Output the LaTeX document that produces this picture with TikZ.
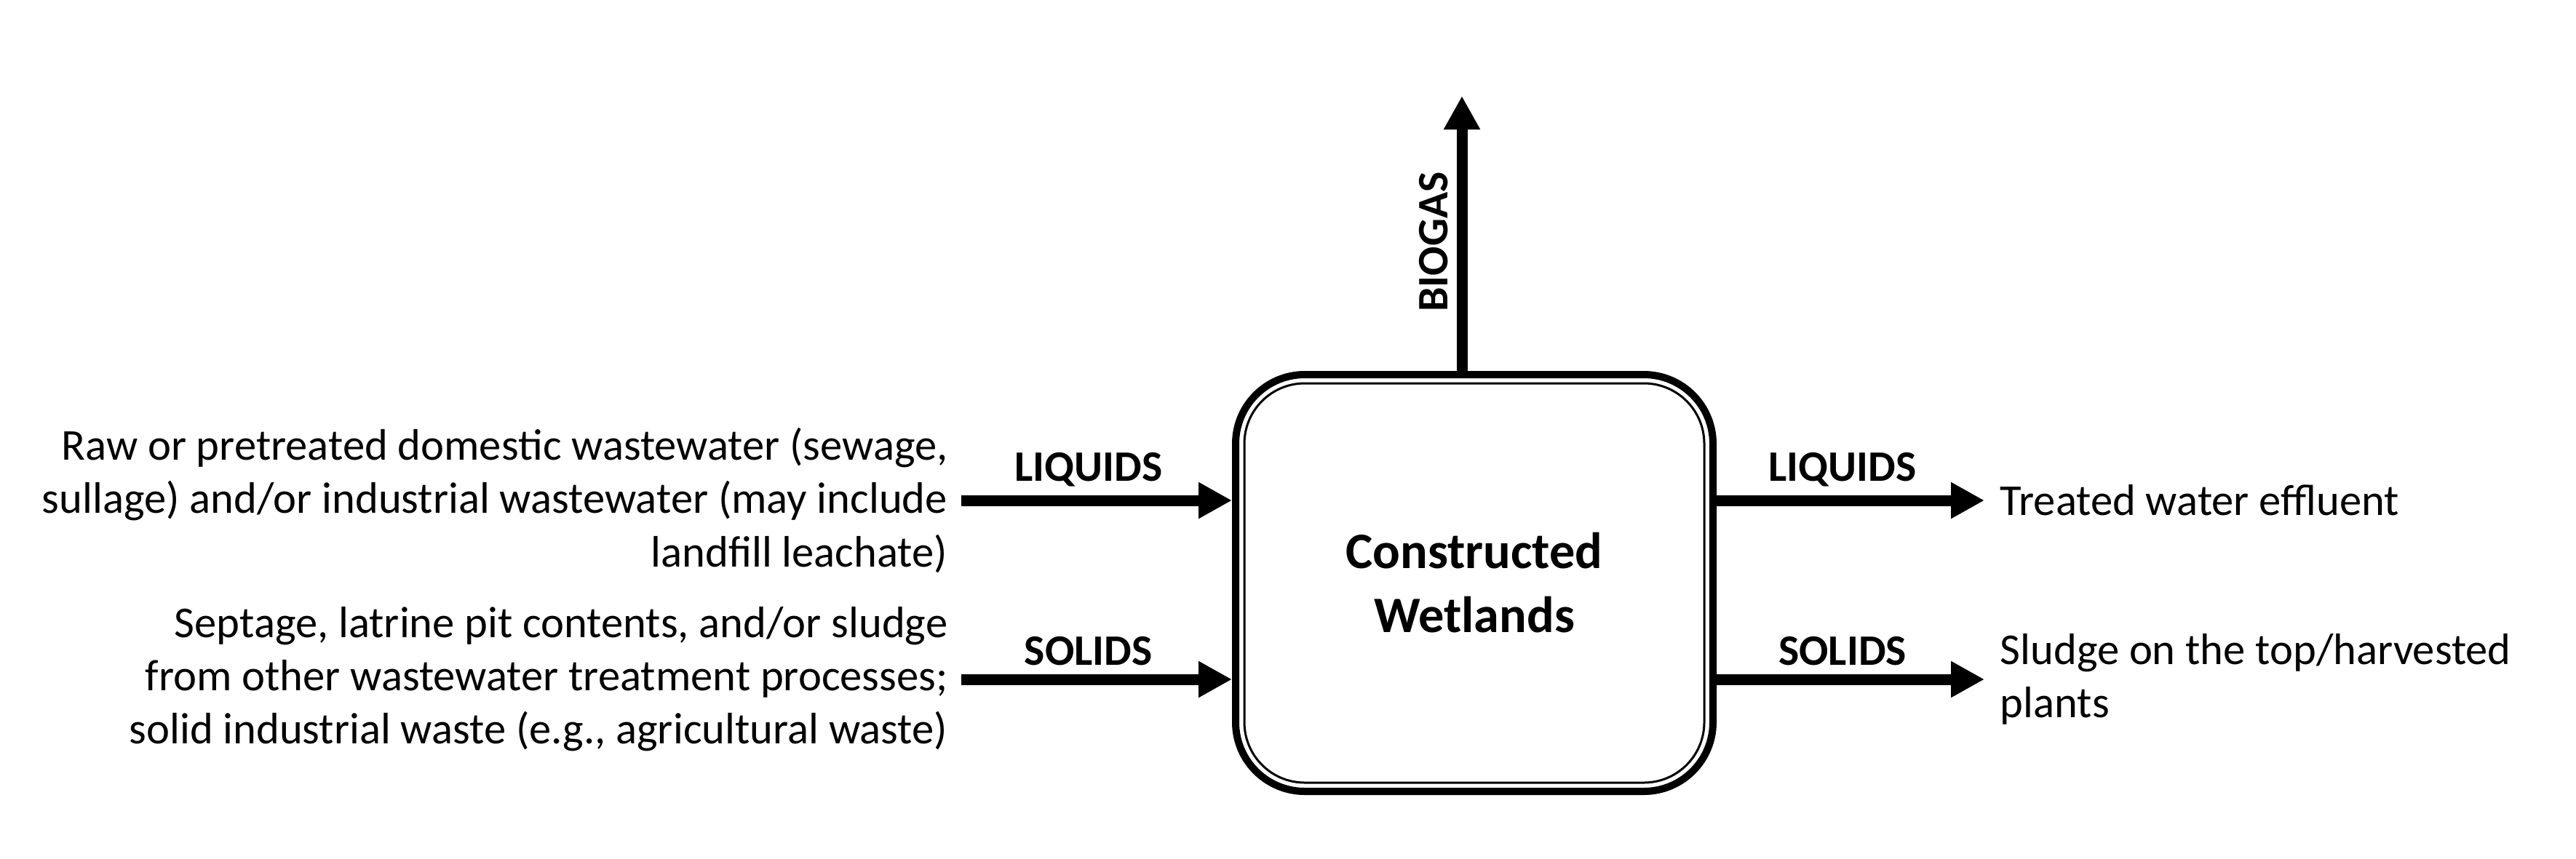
\documentclass[tikz,border=0pt]{standalone}
\usepackage{fontspec}
\setmainfont{Carlito}
\usetikzlibrary{arrows.meta}

\begin{document}
\begin{tikzpicture}
		\tikzset{
			flow/.style={line width=0.15cm, -{Triangle[length=0.46cm, width=0.47cm]}},
			lbl/.style={font=\fontsize{17}{20}\selectfont\bfseries},
			txt/.style={font=\fontsize{17.25}{20.8}\selectfont, inner sep=0pt},
			tank/.style={draw, line width=0.1cm, rounded corners=0.95cm, minimum width=6.56cm, minimum height=5.73cm, align=center, font=\fontsize{20}{25}\selectfont\bfseries}
		};

		\useasboundingbox (0,0) rectangle (35.4,-11.8);

		\node[tank] (wl) at (20.26,-8.015) {Constructed\\Wetlands};
		\draw[line width=0.03cm, rounded corners=0.83cm] ([shift={(0.17,0.17)}]wl.south west) rectangle ([shift={(-0.17,-0.17)}]wl.north east);

		\node[txt, anchor=east, align=right] (liqsrc) at (13.03,-6.88) {Raw or pretreated domestic wastewater (sewage,\\sullage) and/or industrial wastewater (may include\\landfill leachate)};
		\node[txt, anchor=east, align=right] (solsrc) at (13.03,-9.34) {Septage, latrine pit contents, and/or sludge\\from other wastewater treatment processes;\\solid industrial waste (e.g., agricultural waste)};
		\node[txt, anchor=west] (effl) at (27.48,-6.88) {Treated water effluent};
		\node[txt, anchor=west, align=left] (sludge) at (27.48,-9.34) {Sludge on the top/harvested\\plants};
		\coordinate (gasout) at (20.09,-1.32);

		\draw[flow] ([xshift=0.18cm]liqsrc.east) -- (liqsrc.east -| wl.west) node[lbl, above, pos=0.47] {LIQUIDS};
		\draw[flow] ([xshift=0.18cm]solsrc.east) -- (solsrc.east -| wl.west) node[lbl, above, pos=0.47] {SOLIDS};

		\draw[flow] (effl.west -| wl.east) -- ([xshift=-0.21cm]effl.west) node[lbl, above, pos=0.47] {LIQUIDS};
		\draw[flow] (sludge.west -| wl.east) -- ([xshift=-0.21cm]sludge.west) node[lbl, above, pos=0.47] {SOLIDS};

		\draw[flow] (gasout |- wl.north) -- (gasout) node[lbl, rotate=90, above, pos=0.47] {BIOGAS};
	\end{tikzpicture}
\end{document}
